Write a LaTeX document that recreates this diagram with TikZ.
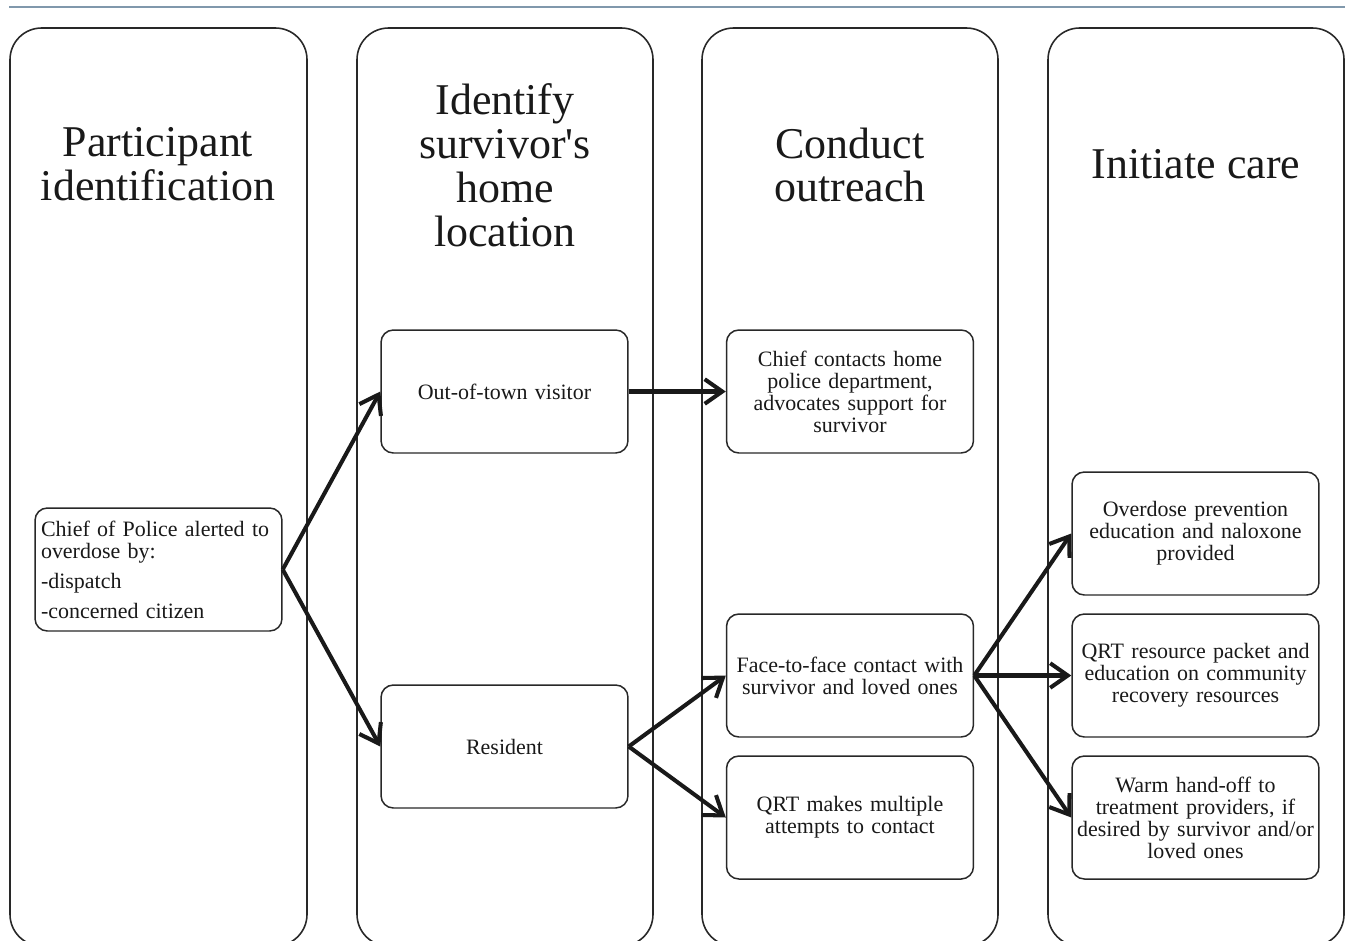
\documentclass[tikz,border=0pt]{standalone}
\usepackage{fontspec}
\setmainfont{Liberation Serif}
\usetikzlibrary{arrows.meta}
\definecolor{rulegray}{RGB}{128,152,172}
\definecolor{framegray}{RGB}{40,40,40}

\begin{document}
\begin{tikzpicture}[x=0.02cm, y=-0.02cm,
  lane/.style={draw=framegray, line width=0.9pt, rounded corners=18pt},
  heading/.style={align=center, text=black!90, font=\fontsize{25}{25}\selectfont},
  stepbox/.style={draw=framegray, line width=0.85pt, rounded corners=7pt, minimum width=4.94cm, minimum height=2.46cm, text width=4.74cm, inner xsep=0.1cm, align=center, text=black!90, font=\fontsize{12.5}{12.5}\selectfont},
  flow/.style={-{Straight Barb[length=10pt,width=14pt]}, line width=2.3pt, black!90}]
\useasboundingbox (0,0) rectangle (1348,940);
\clip (0,0) rectangle (1348,940);

% Top rule
\draw[rulegray, line width=1.3pt] (9,7) -- (1345,7);

% Columns
\draw[lane] (10,28) rectangle (307,946);
\draw[lane] (357,28) rectangle (653,946);
\draw[lane] (702,28) rectangle (998,946);
\draw[lane] (1048,28) rectangle (1344,946);

% Headings
\node[heading] (head1) at (158,164) {Participant\\identification};
\node[heading] (head2) at (505,165) {Identify\\survivor\textquotesingle s\\home\\location};
\node[heading] (head3) at (850,165) {Conduct\\outreach};
\node[heading] (head4) at (1196,164) {Initiate care};

% Participant identification
\node[stepbox, align=left, text width=4.7cm, inner xsep=0.12cm] (chief) at (158.5,569.5) {Chief of Police alerted to\\overdose by:\\[0.16cm]-dispatch\\[0.16cm]-concerned citizen};

% Home location
\node[stepbox] (visitor) at (504.5,391.5) {Out-of-town visitor};
\node[stepbox] (resident) at (504.5,746.5) {Resident};

% Outreach
\node[stepbox] (homepd) at (850,391.5) {Chief contacts home\\police department,\\advocates support for\\survivor};
\node[stepbox] (face) at (850,675.5) {Face-to-face contact with\\survivor and loved ones};
\node[stepbox] (attempts) at (850,817.5) {QRT makes multiple\\attempts to contact};

% Care
\node[stepbox] (naloxone) at (1195.5,533.5) {Overdose prevention\\education and naloxone\\provided};
\node[stepbox] (packet) at (1195.5,675.5) {QRT resource packet and\\education on community\\recovery resources};
\node[stepbox] (handoff) at (1195.5,817.5) {Warm hand-off to\\treatment providers, if\\desired by survivor and/or\\loved ones};

% Arrows
\draw[flow] (chief.east) -- (visitor.west);
\draw[flow] (chief.east) -- (resident.west);
\draw[flow] (visitor.east) -- (homepd.west);
\draw[flow] (resident.east) -- (face.west);
\draw[flow] (resident.east) -- (attempts.west);
\draw[flow] (face.east) -- (naloxone.west);
\draw[flow] (face.east) -- (packet.west);
\draw[flow] (face.east) -- (handoff.west);
\end{tikzpicture}
\end{document}
